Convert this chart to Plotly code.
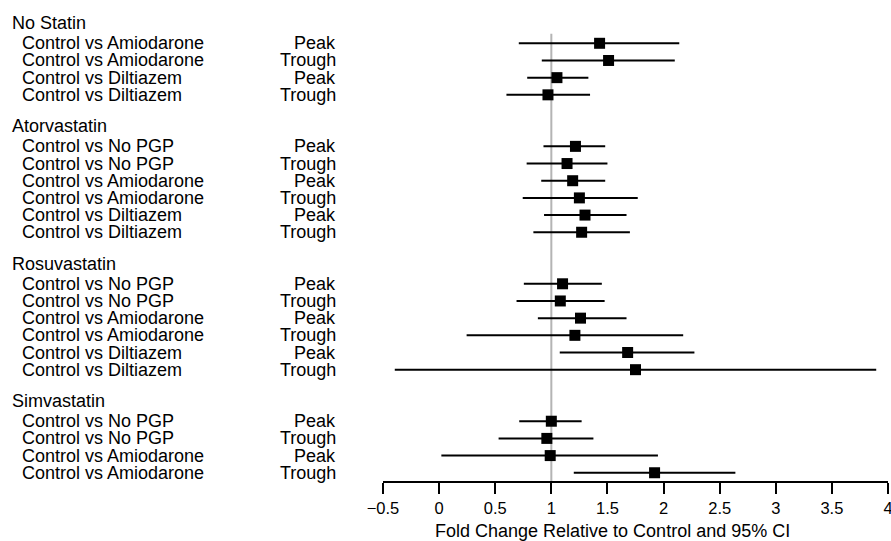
import plotly.graph_objects as go

# ---- data ----
groups = ["No Statin", "Atorvastatin", "Rosuvastatin", "Simvastatin"]
group_sizes = [4, 6, 6, 4]
comparisons = [
    "Control vs Amiodarone", "Control vs Amiodarone", "Control vs Diltiazem", "Control vs Diltiazem",
    "Control vs No PGP", "Control vs No PGP", "Control vs Amiodarone", "Control vs Amiodarone",
    "Control vs Diltiazem", "Control vs Diltiazem",
    "Control vs No PGP", "Control vs No PGP", "Control vs Amiodarone", "Control vs Amiodarone",
    "Control vs Diltiazem", "Control vs Diltiazem",
    "Control vs No PGP", "Control vs No PGP", "Control vs Amiodarone", "Control vs Amiodarone",
]
timepoints = [
    "Peak", "Trough", "Peak", "Trough",
    "Peak", "Trough", "Peak", "Trough", "Peak", "Trough",
    "Peak", "Trough", "Peak", "Trough", "Peak", "Trough",
    "Peak", "Trough", "Peak", "Trough",
]
estimate = [1.43, 1.51, 1.05, 0.97,
            1.215, 1.14, 1.19, 1.25, 1.30, 1.27,
            1.10, 1.08, 1.26, 1.21, 1.68, 1.75,
            1.00, 0.96, 0.99, 1.92]
lower = [0.71, 0.915, 0.785, 0.60,
         0.93, 0.78, 0.91, 0.745, 0.935, 0.84,
         0.755, 0.69, 0.88, 0.245, 1.075, -0.395,
         0.714, 0.53, 0.02, 1.20]
upper = [2.14, 2.10, 1.33, 1.345,
         1.48, 1.50, 1.48, 1.77, 1.67, 1.70,
         1.45, 1.475, 1.67, 2.175, 2.275, 3.895,
         1.27, 1.375, 1.95, 2.64]
tick_vals = [-0.5, 0, 0.5, 1, 1.5, 2, 2.5, 3, 3.5, 4]
tick_text = ["\u22120.5", "0", "0.5", "1", "1.5", "2", "2.5", "3", "3.5", "4"]
ref_value = 1
x_title = "Fold Change Relative to Control and 95% CI"

# ---- row slots (header, rows, blank) ----
header_slots = []
row_slots = []
s = 0
for n in group_sizes:
    header_slots.append(s)
    row_slots.extend(range(s + 1, s + 1 + n))
    s += n + 2

FONT = "Liberation Sans, Arial, sans-serif"
fs = 18

fig = go.Figure()
fig.add_trace(go.Scatter(
    x=estimate, y=row_slots, mode="markers",
    marker=dict(symbol="square", size=11, color="black"),
    error_x=dict(type="data", symmetric=False,
                 array=[u - e for u, e in zip(upper, estimate)],
                 arrayminus=[e - l for e, l in zip(estimate, lower)],
                 color="black", thickness=2, width=0),
    showlegend=False, cliponaxis=False,
))

fig.add_shape(type="line", xref="x", yref="y domain",
              x0=ref_value, x1=ref_value, y0=0, y1=0.93,
              line=dict(color="#b4b4b4", width=2), layer="below")

ann = []
for g, hs in zip(groups, header_slots):
    ann.append(dict(text=g, xref="paper", yref="y", x=0, y=hs, xanchor="left",
                    yanchor="middle", xshift=10 - 383, yshift=3, showarrow=False,
                    font=dict(size=fs, color="black", family=FONT)))
for c, t, rs in zip(comparisons, timepoints, row_slots):
    ann.append(dict(text=c, xref="paper", yref="y", x=0, y=rs, xanchor="left",
                    yanchor="middle", xshift=20 - 383, showarrow=False,
                    font=dict(size=fs, color="black", family=FONT)))
    ann.append(dict(text=t, xref="paper", yref="y", x=0, y=rs, xanchor="right",
                    yanchor="middle", xshift=338 - 383, showarrow=False,
                    font=dict(size=fs, color="black", family=FONT)))
ann.append(dict(text=x_title, xref="paper", yref="paper", x=0.4545, y=0,
                xanchor="center", yanchor="middle", yshift=-50, showarrow=False,
                font=dict(size=fs, color="black", family=FONT)))

fig.update_layout(
    width=891, height=541,
    margin=dict(l=383, r=3, t=0, b=60),
    paper_bgcolor="white", plot_bgcolor="white",
    annotations=ann,
    xaxis=dict(range=[-0.5, 4.0], tickvals=tick_vals, ticktext=tick_text,
               showline=True, linecolor="black", linewidth=2,
               ticks="outside", ticklen=11, tickwidth=2, tickcolor="black",
               showgrid=False, zeroline=False, automargin=False,
               ticklabeloverflow="allow",
               tickfont=dict(size=16.5, color="black", family=FONT)),
    yaxis=dict(range=[26.48, -1.52], visible=False, showgrid=False,
               zeroline=False, automargin=False),
)

fig.write_html("out.html")
